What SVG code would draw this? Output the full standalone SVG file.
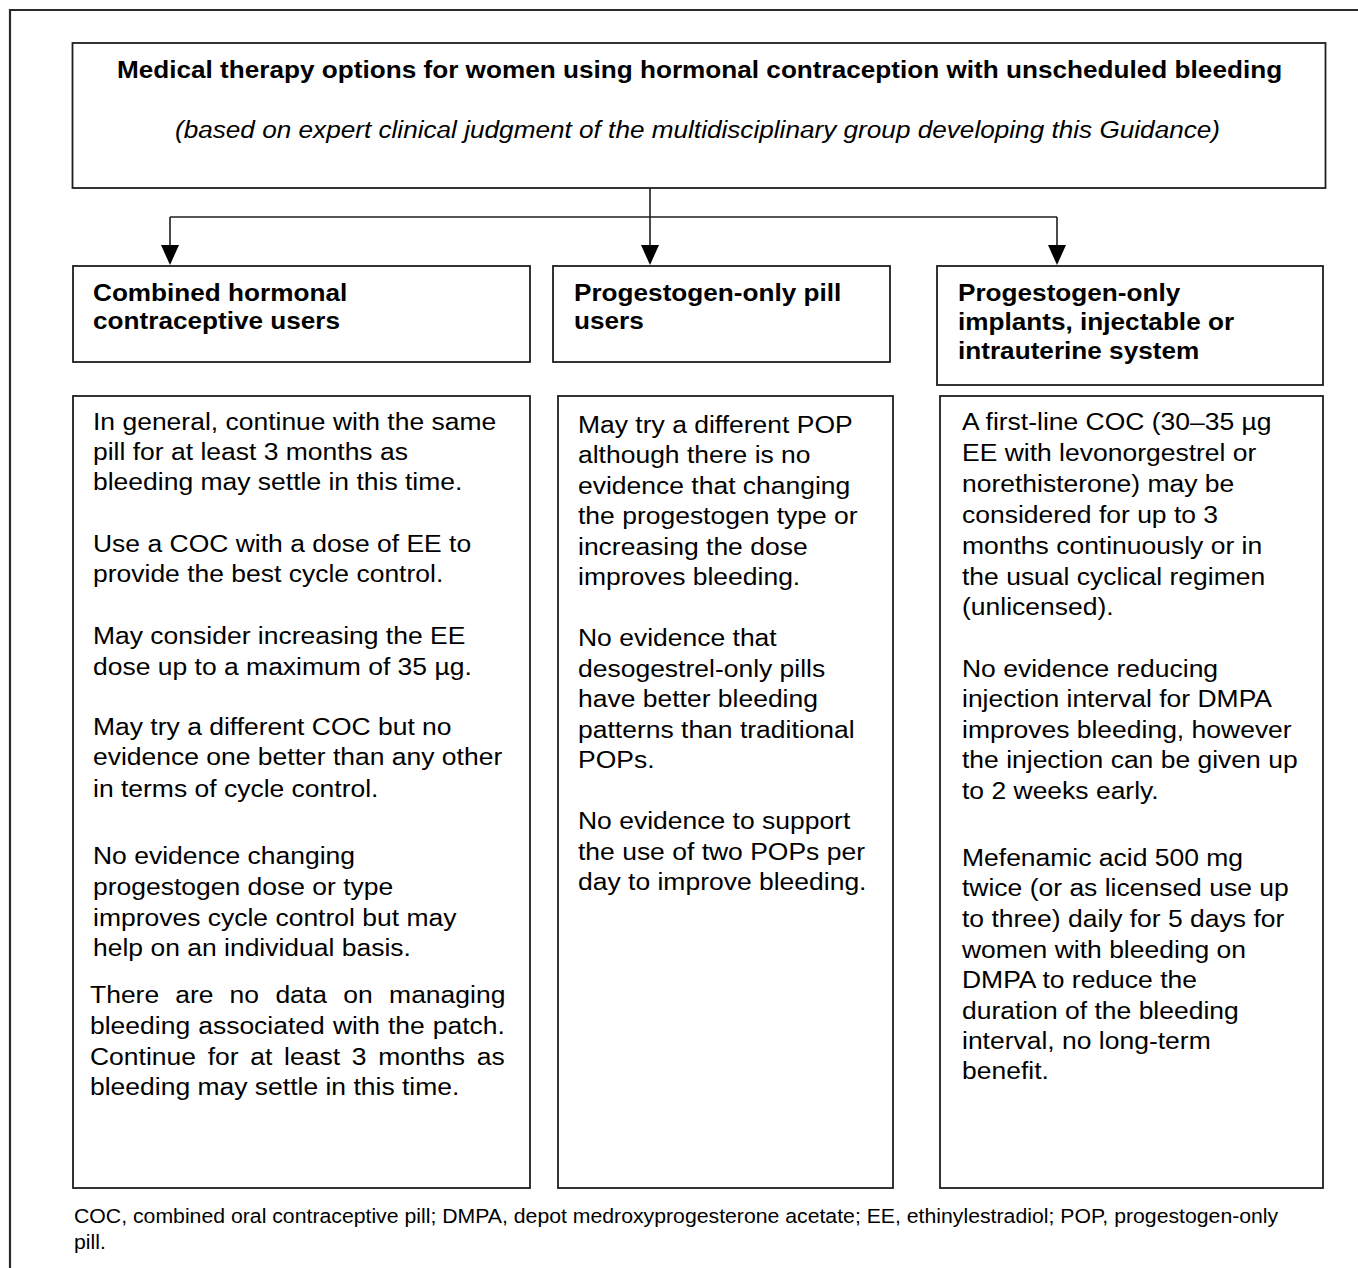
<svg xmlns="http://www.w3.org/2000/svg" width="1358" height="1268" viewBox="0 0 1358 1268">
<style>
.box{fill:#fff;stroke:#1e1e1e;stroke-width:1.8}
.frame{fill:none;stroke:#2a2a2a;stroke-width:2.2}
.t{font-family:"Liberation Sans",Arial,Helvetica,sans-serif;fill:#000}
.title{font-size:24px;font-weight:bold}
.sub{font-size:24px;font-style:italic}
.hd{font-size:24px;font-weight:bold}
.bd{font-size:24.3px}
.fn{font-size:19.5px}
.conn{fill:none;stroke:#1e1e1e;stroke-width:1.6}
</style>
<defs>
<marker id="arrow" viewBox="0 0 20 18" markerUnits="userSpaceOnUse" markerWidth="20" markerHeight="18" refX="0" refY="9" orient="auto">
<path d="M0,0 L20,9 L0,18 Z" fill="#000"/>
</marker>
</defs>
<rect width="1358" height="1268" fill="#fff"/>
<path class="frame" d="M10,1268 V10 H1358"/>

<g id="title-box">
<rect class="box" x="72.5" y="43" width="1253" height="145"/>
<text class="t title" text-anchor="middle" transform="translate(699.5 0) scale(1.09 1)" x="0" y="78.5">Medical therapy options for women using hormonal contraception with unscheduled bleeding</text>
<text class="t sub" text-anchor="middle" transform="translate(697.5 0) scale(1.09 1)" x="0" y="138">(based on expert clinical judgment of the multidisciplinary group developing this Guidance)</text>
</g>

<g id="connectors">
<path class="conn" d="M650,188 V245" marker-end="url(#arrow)"/>
<path class="conn" d="M170,217 H1057"/>
<path class="conn" d="M170,217 V245" marker-end="url(#arrow)"/>
<path class="conn" d="M1057,217 V245" marker-end="url(#arrow)"/>
</g>

<g id="header-chc">
<rect class="box" x="73" y="266" width="457" height="96"/>
<text class="t hd" transform="translate(93 0) scale(1.09 1)"><tspan x="0" y="301">Combined hormonal</tspan><tspan x="0" y="329">contraceptive users</tspan></text>
</g>

<g id="header-pop">
<rect class="box" x="553" y="266" width="337" height="96"/>
<text class="t hd" transform="translate(574 0) scale(1.09 1)"><tspan x="0" y="301">Progestogen-only pill</tspan><tspan x="0" y="329">users</tspan></text>
</g>

<g id="header-implants">
<rect class="box" x="937" y="266" width="386" height="119"/>
<text class="t hd" transform="translate(958 0) scale(1.09 1)"><tspan x="0" y="301">Progestogen-only</tspan><tspan x="0" y="330">implants, injectable or</tspan><tspan x="0" y="359">intrauterine system</tspan></text>
</g>

<g id="body-chc">
<rect class="box" x="73" y="396" width="457" height="792"/>
<text class="t bd" transform="translate(93 0) scale(1.09 1)">
<tspan x="0" y="430">In general, continue with the same</tspan>
<tspan x="0" y="460">pill for at least 3 months as</tspan>
<tspan x="0" y="490">bleeding may settle in this time.</tspan>
<tspan x="0" y="552">Use a COC with a dose of EE to</tspan>
<tspan x="0" y="582">provide the best cycle control.</tspan>
<tspan x="0" y="644">May consider increasing the EE</tspan>
<tspan x="0" y="675">dose up to a maximum of 35 µg.</tspan>
<tspan x="0" y="735">May try a different COC but no</tspan>
<tspan x="0" y="765">evidence one better than any other</tspan>
<tspan x="0" y="797">in terms of cycle control.</tspan>
<tspan x="0" y="864">No evidence changing</tspan>
<tspan x="0" y="895">progestogen dose or type</tspan>
<tspan x="0" y="926">improves cycle control but may</tspan>
<tspan x="0" y="956">help on an individual basis.</tspan>
</text>
<text class="t bd" transform="translate(90 0) scale(1.09 1)">
<tspan y="1003"><tspan x="0">There</tspan><tspan x="78.26">are</tspan><tspan x="128.07">no</tspan><tspan x="170.09">data</tspan><tspan x="232.39">on</tspan><tspan x="274.4">managing</tspan></tspan>
<tspan y="1034"><tspan x="0">bleeding</tspan><tspan x="99.27">associated</tspan><tspan x="222.84">with</tspan><tspan x="273.39">the</tspan><tspan x="314.5">patch.</tspan></tspan>
<tspan y="1065"><tspan x="0">Continue</tspan><tspan x="107.98">for</tspan><tspan x="147.06">at</tspan><tspan x="178.07">least</tspan><tspan x="240.18">3</tspan><tspan x="264.4">months</tspan><tspan x="354.86">as</tspan></tspan>
<tspan x="0" y="1095">bleeding may settle in this time.</tspan>
</text>
</g>

<g id="body-pop">
<rect class="box" x="558" y="396" width="335" height="792"/>
<text class="t bd" transform="translate(578 0) scale(1.09 1)">
<tspan x="0" y="433">May try a different POP</tspan>
<tspan x="0" y="463.5">although there is no</tspan>
<tspan x="0" y="494">evidence that changing</tspan>
<tspan x="0" y="524.5">the progestogen type or</tspan>
<tspan x="0" y="555">increasing the dose</tspan>
<tspan x="0" y="585.5">improves bleeding.</tspan>
<tspan x="0" y="646.5">No evidence that</tspan>
<tspan x="0" y="677">desogestrel-only pills</tspan>
<tspan x="0" y="707.5">have better bleeding</tspan>
<tspan x="0" y="738">patterns than traditional</tspan>
<tspan x="0" y="768.5">POPs.</tspan>
<tspan x="0" y="829.5">No evidence to support</tspan>
<tspan x="0" y="860">the use of two POPs per</tspan>
<tspan x="0" y="890.5">day to improve bleeding.</tspan>
</text>
</g>

<g id="body-implants">
<rect class="box" x="940" y="396" width="383" height="792"/>
<text class="t bd" transform="translate(962 0) scale(1.09 1)">
<tspan x="0" y="430">A first-line COC (30–35 µg</tspan>
<tspan x="0" y="461">EE with levonorgestrel or</tspan>
<tspan x="0" y="492">norethisterone) may be</tspan>
<tspan x="0" y="523">considered for up to 3</tspan>
<tspan x="0" y="554">months continuously or in</tspan>
<tspan x="0" y="585">the usual cyclical regimen</tspan>
<tspan x="0" y="615">(unlicensed).</tspan>
<tspan x="0" y="677">No evidence reducing</tspan>
<tspan x="0" y="707">injection interval for DMPA</tspan>
<tspan x="0" y="738">improves bleeding, however</tspan>
<tspan x="0" y="768">the injection can be given up</tspan>
<tspan x="0" y="799">to 2 weeks early.</tspan>
<tspan x="0" y="866">Mefenamic acid 500 mg</tspan>
<tspan x="0" y="896">twice (or as licensed use up</tspan>
<tspan x="0" y="927">to three) daily for 5 days for</tspan>
<tspan x="0" y="958">women with bleeding on</tspan>
<tspan x="0" y="988">DMPA to reduce the</tspan>
<tspan x="0" y="1019">duration of the bleeding</tspan>
<tspan x="0" y="1049">interval, no long-term</tspan>
<tspan x="0" y="1079">benefit.</tspan>
</text>
</g>

<g id="footnote">
<text class="t fn" transform="translate(74 0) scale(1.09 1)"><tspan x="0" y="1223">COC, combined oral contraceptive pill; DMPA, depot medroxyprogesterone acetate; EE, ethinylestradiol; POP, progestogen-only</tspan><tspan x="0" y="1249">pill.</tspan></text>
</g>
</svg>
